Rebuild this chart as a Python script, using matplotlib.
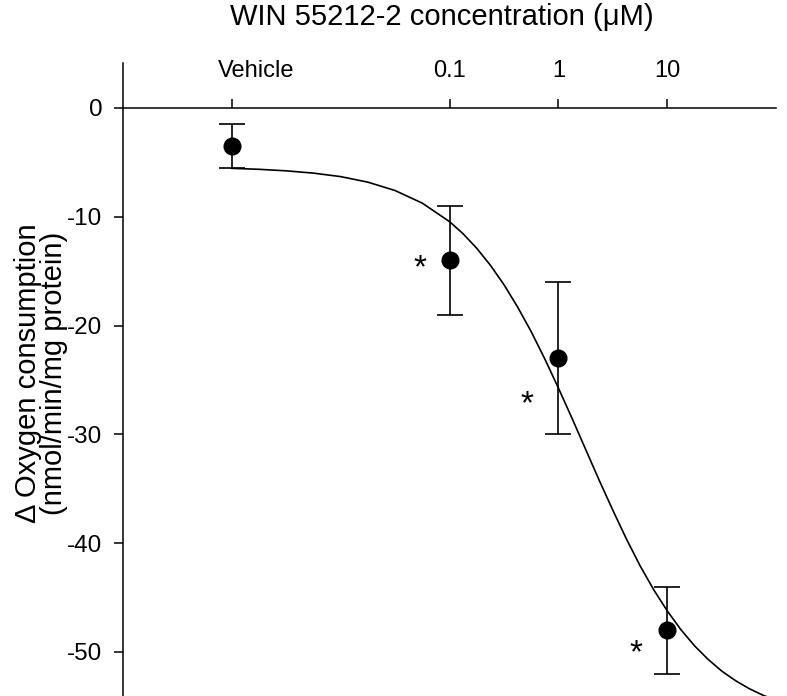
import numpy as np
import matplotlib.pyplot as plt
from matplotlib.ticker import NullLocator
from matplotlib.transforms import ScaledTranslation

plt.rcParams['font.family'] = ['Liberation Sans', 'DejaVu Sans']
plt.rcParams['axes.unicode_minus'] = False

# measured points (vehicle plotted at 0.001 uM)
conc = [0.001, 0.1, 1, 10]
resp = [-3.5, -14.0, -23.0, -48.0]
err = [2.0, 5.0, 7.0, 4.0]

# fitted curve (log10 concentration, response)
curve_logc = [-3.0, -2.75, -2.5, -2.25, -2.0, -1.75, -1.5, -1.25, -1.0, -0.875,
              -0.75, -0.625, -0.5, -0.375, -0.25, -0.125, 0.0, 0.125, 0.25, 0.375,
              0.5, 0.625, 0.75, 0.875, 1.0, 1.125, 1.25, 1.375, 1.5, 1.625,
              1.75, 1.875, 2.0]
curve_resp = [-5.55, -5.64, -5.78, -5.99, -6.31, -6.82, -7.59, -8.75, -10.45, -11.57,
              -12.9, -14.46, -16.25, -18.3, -20.57, -23.08, -25.76, -28.54, -31.4, -34.25,
              -37.0, -39.65, -42.1, -44.3, -46.25, -47.97, -49.45, -50.7, -51.77, -52.64,
              -53.37, -53.97, -54.46]

# significance marks
star_x = [0.0538, 0.517, 5.13]
star_y = [-13.97, -26.5, -49.4]

tick_pos = [0.001, 0.1, 1, 10]
tick_lab = ['Vehicle', '0.1', '1', '10']

fig = plt.figure(figsize=(7.87, 6.96), dpi=100)
ax = fig.add_axes([0.1559, 0.0, 0.8306, 0.909])

ax.plot(10 ** np.array(curve_logc), curve_resp, color='black', lw=1.2)
ax.errorbar(conc, resp, yerr=err, fmt='o', color='black', ms=12,
            elinewidth=1.2, capsize=9.5, capthick=1.2)

fs_star = 24
for sx, sy in zip(star_x, star_y):
    ax.annotate('*', (sx, sy), xytext=(0, -0.52 * fs_star), textcoords='offset points',
                ha='center', va='baseline', fontsize=fs_star)

ax.set_xscale('log')
ax.set_xlim(1e-4, 1e2)
ax.set_ylim(-54.05, 4.1)

ax.spines['right'].set_visible(False)
ax.spines['bottom'].set_visible(False)
ax.spines['top'].set_position(('data', 0))
for s in ['left', 'top']:
    ax.spines[s].set_linewidth(1.1)

ax.xaxis.set_ticks_position('top')
ax.set_xticks(tick_pos)
ax.set_xticklabels(tick_lab)
ax.xaxis.set_minor_locator(NullLocator())
ax.set_yticks([0, -10, -20, -30, -40, -50])
ax.tick_params(axis='x', direction='out', length=6.5, width=1.1, pad=12, labelsize=17)
ax.tick_params(axis='y', direction='out', length=6.5, width=1.1, pad=8, labelsize=17.5)

# "Vehicle" label sits a bit right of its tick
lab = ax.get_xticklabels()[0]
lab.set_transform(lab.get_transform() + ScaledTranslation(0.25, 0, fig.dpi_scale_trans))

fig.text(442 / 787, 1 - 17 / 696, 'WIN 55212-2 concentration (\u03bcM)',
         ha='center', va='center', fontsize=21)
fig.text(41 / 787, 1 - 373 / 696, '\u0394 Oxygen consumption\n(nmol/min/mg protein)',
         ha='center', va='center', rotation=90, fontsize=21, linespacing=0.93,
         multialignment='center')

fig.savefig('out.png', dpi=100)
